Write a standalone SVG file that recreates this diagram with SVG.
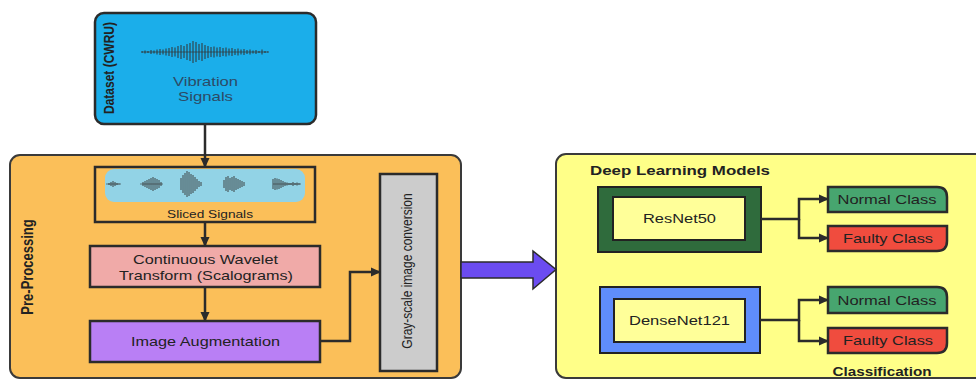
<svg xmlns="http://www.w3.org/2000/svg" width="976" height="381" viewBox="0 0 976 381">
<defs>
<marker id="ah" markerUnits="userSpaceOnUse" markerWidth="10" markerHeight="10" viewBox="0 0 10 10" refX="9" refY="5" orient="auto">
<path d="M0 0.5 L10 5 L0 9.5 Z" fill="#2b2b2b"/>
</marker>
<style>
text{font-family:"Liberation Sans",Arial,sans-serif;font-size:13px;fill:#222;}
.b{font-weight:bold;}
.c{text-anchor:middle;}
.edge{fill:none;stroke:#2b2b2b;stroke-width:2.5;}
.wave{fill:none;stroke:#333;stroke-width:1;}
.box{stroke:#2b2b2b;stroke-width:2.5;}
</style>
</defs>
<rect width="976" height="381" fill="#ffffff"/>

<g id="preprocessing">
<rect x="10" y="155" width="451" height="223" rx="10" fill="#FBBF59" stroke="#3a3a3a" stroke-width="2"/>
<text class="b c" transform="translate(33,267) rotate(-90) scale(1,1.2)">Pre-Processing</text>
</g>

<g id="deep-learning">
<rect x="556" y="154" width="440" height="224" rx="10" fill="#FFFF88" stroke="#3a3a3a" stroke-width="2"/>
<text class="b c" x="680" y="175" textLength="180" lengthAdjust="spacingAndGlyphs">Deep Learning Models</text>
<text class="b c" x="882" y="376" textLength="99" lengthAdjust="spacingAndGlyphs">Classification</text>
</g>

<g id="dataset">
<rect x="95" y="13" width="221" height="111" rx="9" fill="#1BAEEA" class="box"/>
<text class="b c" transform="translate(114,68) rotate(-90) scale(1,1.2)" style="font-size:12px">Dataset (CWRU)</text>
<path class="wave" d="M142 51V53 M145 50.5V53.5 M148 51V53 M151 50V54 M154 50.5V53.5 M157 49.5V54.5 M160 49V55 M163 49.5V54.5 M166 48.5V55.5 M169 48V56 M172 47V57 M175 47.5V56.5 M178 46V58 M181 45V59 M184 46V58 M187 44V60 M190 43V61 M193 41V63 M196 42V62 M199 44V60 M202 43V61 M205 45V59 M208 46V58 M211 47V57 M214 46.5V57.5 M217 47.5V56.5 M220 47V57 M223 48V56 M226 47.5V56.5 M229 48.5V55.5 M232 48V56 M235 49V55 M238 48.5V55.5 M241 49.5V54.5 M244 49V55 M247 50V54 M250 49.5V54.5 M253 50.5V53.5 M256 50V54 M259 51V53 M262 49.5V54.5 M265 51V53 M268 51.2V52.8"/>
<path d="M142 52H268" stroke="#333" stroke-width="0.7"/>
<text class="c" x="205.5" y="86" textLength="65" lengthAdjust="spacingAndGlyphs" style="fill:#2c4a66">Vibration</text>
<text class="c" x="205.5" y="101" textLength="55" lengthAdjust="spacingAndGlyphs" style="fill:#2c4a66">Signals</text>
</g>

<g id="sliced-signals">
<rect x="95" y="167" width="220" height="55" fill="#FBBF59" class="box"/>
<rect x="105" y="169" width="200" height="33" rx="9" fill="#92D3E6"/>
<path class="wave" style="stroke-width:0.9" d="M109 183V185 M111 182V186 M113 181V187 M115 182V186 M117 183V185 M119 183.5V184.5
M143 182V186 M145 181V187 M147 180V188 M149 179V189 M151 178V190 M153 177V191 M155 178V190 M157 179V189 M159 180V188 M161 182V186
M181 178V190 M183 175V193 M185 173V195 M187 171V197 M189 172V196 M191 174V194 M193 175V193 M195 177V191 M197 179V189 M199 181V187 M201 182V186
M224 180V188 M226 177V191 M228 176V192 M230 178V190 M232 177V191 M234 176V192 M236 178V190 M238 179V189 M240 180V188 M242 181V187 M244 182V186
M273 179V189 M275 178V190 M277 178.5V189.5 M279 179V189 M281 180V188 M283 181V187 M285 182V186 M287 182.5V185.5 M289 183V185 M291 183V185 M293 182V186 M295 183V185 M297 182.5V185.5 M299 183.2V184.8"/>
<path d="M106 184H121 M140 184H163 M273 184H301" stroke="#333" stroke-width="0.6"/>
<text class="c" x="210" y="218" style="font-size:11px" textLength="86" lengthAdjust="spacingAndGlyphs">Sliced Signals</text>
</g>

<g id="cwt">
<rect x="90" y="246" width="230" height="41" fill="#F0AAA8" class="box" stroke-width="2"/>
<text class="c" x="205.5" y="264" textLength="145" lengthAdjust="spacingAndGlyphs">Continuous Wavelet</text>
<text class="c" x="206" y="280" textLength="174" lengthAdjust="spacingAndGlyphs">Transform (Scalograms)</text>
</g>

<g id="augmentation">
<rect x="90" y="321" width="230" height="41" fill="#B97FF5" class="box" stroke-width="2"/>
<text class="c" x="205.5" y="346" textLength="149" lengthAdjust="spacingAndGlyphs">Image Augmentation</text>
</g>

<g id="grayscale">
<rect x="380" y="174" width="57" height="197" fill="#CCCCCC" class="box"/>
<text class="c" transform="translate(412,271) rotate(-90) scale(1,1.15)" style="font-size:12px">Gray-scale image conversion</text>
</g>

<g id="resnet50">
<rect x="598" y="187" width="163" height="65" fill="#2F6B3C" stroke="#222" stroke-width="2"/>
<rect x="613" y="197" width="132" height="43" fill="#FFFF99" stroke="#222" stroke-width="2"/>
<text class="c" x="679.5" y="223" textLength="73" lengthAdjust="spacingAndGlyphs">ResNet50</text>
</g>

<g id="densenet121">
<rect x="600" y="287" width="160" height="66" fill="#5F8DFB" stroke="#222" stroke-width="2"/>
<rect x="614" y="299" width="131" height="43" fill="#FFFF99" stroke="#222" stroke-width="2"/>
<text class="c" x="679.5" y="325" textLength="101" lengthAdjust="spacingAndGlyphs">DenseNet121</text>
</g>

<g id="normal1">
<path d="M828 187H937Q947 187 947 197V212H828Z" fill="#47A56F" class="box" stroke-width="2"/>
<text class="c" x="887" y="204" textLength="99" lengthAdjust="spacingAndGlyphs">Normal Class</text>
</g>
<g id="faulty1">
<path d="M828 226H947V241Q947 251 937 251H828Z" fill="#F04C3E" class="box" stroke-width="2"/>
<text class="c" x="888" y="243" textLength="90" lengthAdjust="spacingAndGlyphs">Faulty Class</text>
</g>
<g id="normal2">
<path d="M828 287H937Q947 287 947 297V313H828Z" fill="#47A56F" class="box" stroke-width="2"/>
<text class="c" x="887" y="304.5" textLength="99" lengthAdjust="spacingAndGlyphs">Normal Class</text>
</g>
<g id="faulty2">
<path d="M828 328H947V343Q947 353 937 353H828Z" fill="#F04C3E" class="box" stroke-width="2"/>
<text class="c" x="888" y="345" textLength="90" lengthAdjust="spacingAndGlyphs">Faulty Class</text>
</g>

<g id="connectors">
<path class="edge" d="M205 124V167" marker-end="url(#ah)"/>
<path class="edge" d="M205 222V246" marker-end="url(#ah)"/>
<path class="edge" d="M205 287V321" marker-end="url(#ah)"/>
<path class="edge" d="M320 341H350V272H380" marker-end="url(#ah)"/>
<path d="M461 262H533V251L556 269.5L533 289V278H461Z" fill="#6B4CF1" stroke="#2b2b2b" stroke-width="1.5"/>
<path class="edge" d="M761 219H799V199H828" marker-end="url(#ah)"/>
<path class="edge" d="M799 219V238H828" marker-end="url(#ah)"/>
<path class="edge" d="M760 320H799V300H828" marker-end="url(#ah)"/>
<path class="edge" d="M799 320V341H828" marker-end="url(#ah)"/>
</g>
</svg>
